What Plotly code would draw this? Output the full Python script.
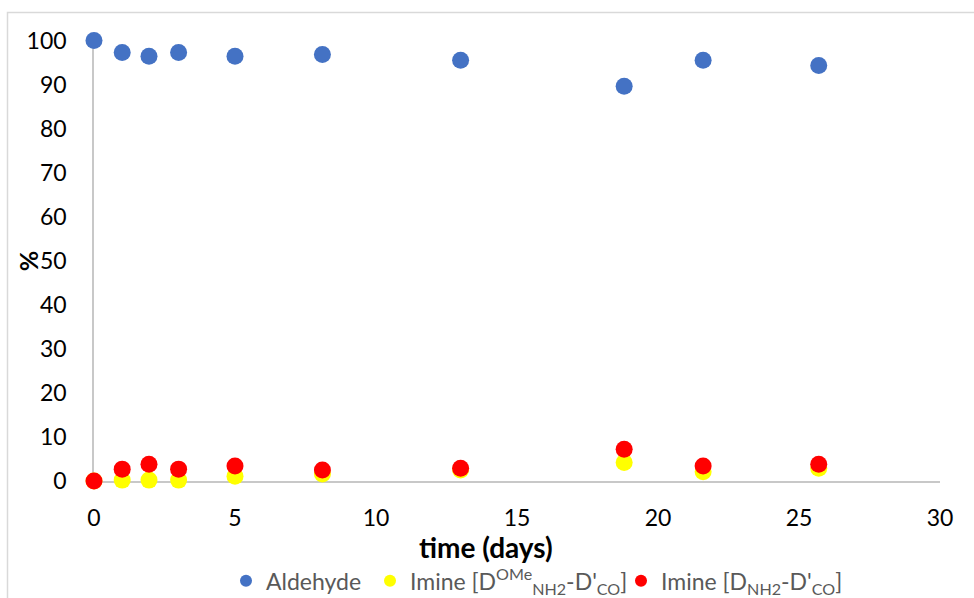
import plotly.graph_objects as go

time_days = [0, 1, 1.95, 3, 5, 8.1, 13, 18.8, 21.6, 25.7]
aldehyde = [100.2, 97.5, 96.6, 97.5, 96.6, 97.0, 95.7, 89.8, 95.7, 94.5]
imine_ome = [0.0, 0.2, 0.2, 0.2, 1.1, 1.6, 2.5, 4.2, 2.1, 2.9]
imine_nh2 = [0.0, 2.7, 3.8, 2.7, 3.4, 2.5, 2.9, 7.2, 3.4, 3.8]

names = ["Aldehyde",
         "Imine [D<sup>OMe</sup><sub>NH2</sub>-D'<sub>CO</sub>]",
         "Imine [D<sub>NH2</sub>-D'<sub>CO</sub>]"]
colors = ["#4472C4", "#FFFF00", "#FF0000"]
x_ticks = [0, 5, 10, 15, 20, 25, 30]
y_ticks = [0, 10, 20, 30, 40, 50, 60, 70, 80, 90, 100]

FONT = "Lato"
W, H = 974, 598
Y_TOP = 101.0
L, R = 94, 34
B = 117
T = 41 - (Y_TOP - 100) * 4.4
pw, ph = W - L - R, H - T - B

def px_x(p):
    return (p - L) / pw

def px_y(p):
    return (H - B - p) / ph

legend_ids = ["legend", "legend2", "legend3"]
legend_marker_px = [246, 390, 641]

fig = go.Figure()
for name, vals, col, lg in zip(names, [aldehyde, imine_ome, imine_nh2], colors, legend_ids):
    fig.add_trace(go.Scatter(
        x=time_days, y=vals, mode="markers", name=name, legend=lg,
        marker=dict(size=17, color=col, line=dict(width=0)),
        cliponaxis=False,
    ))

leg_common = dict(orientation="h", yanchor="middle", xanchor="left", y=px_y(581),
                  font=dict(family=FONT, size=23, color="#595959"),
                  itemsizing="constant", itemwidth=30, bgcolor="rgba(0,0,0,0)",
                  borderwidth=0)
legends = {}
for lg, mx in zip(legend_ids, legend_marker_px):
    legends[lg] = dict(leg_common, x=px_x(mx - 20))

fig.update_layout(
    width=W, height=H,
    margin=dict(l=L, r=R, t=T, b=B, autoexpand=False),
    paper_bgcolor="white", plot_bgcolor="white",
    font=dict(family=FONT, size=23, color="#000000"),
    showlegend=True,
    **legends,
    xaxis=dict(range=[0, 30], tickvals=x_ticks, showgrid=False, zeroline=False,
               showline=True, linecolor="#C8C8C8", linewidth=1.5, ticks="",
               layer="below traces",
               ticklabelstandoff=16, tickfont=dict(size=23, color="#000")),
    yaxis=dict(range=[0, Y_TOP], tickvals=y_ticks, showgrid=False, zeroline=False,
               showline=True, linecolor="#C8C8C8", linewidth=1.5, ticks="",
               layer="below traces",
               ticklabelstandoff=21, tickfont=dict(size=23, color="#000")),
    shapes=[dict(type="rect", xref="paper", yref="paper",
                 x0=px_x(7.5), x1=px_x(990), y0=px_y(620), y1=px_y(12),
                 line=dict(color="#D9D9D9", width=1.5), fillcolor="rgba(0,0,0,0)", layer="below")],
    annotations=[
        dict(text="<b>time (days)</b>", xref="paper", yref="paper",
             x=px_x(486), y=px_y(547), xanchor="center", yanchor="middle",
             showarrow=False, font=dict(family=FONT, size=28, color="#000")),
        dict(text="<b>%</b>", xref="paper", yref="paper",
             x=px_x(28), y=px_y(261), xanchor="center", yanchor="middle", textangle=-90,
             showarrow=False, font=dict(family=FONT, size=25, color="#000")),
    ],
)
fig.write_html("out.html", config={"displayModeBar": False},
               post_script="document.body.style.margin='0';document.body.style.overflow='hidden';")
